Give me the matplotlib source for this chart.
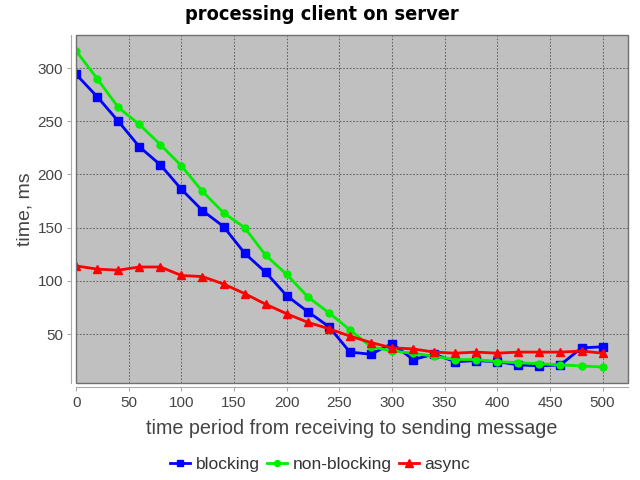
import matplotlib.pyplot as plt
from matplotlib.patches import Rectangle

# data
periods = [0, 20, 40, 60, 80, 100, 120, 140, 160, 180, 200, 220, 240,
           260, 280, 300, 320, 340, 360, 380, 400, 420, 440, 460, 480, 500]
blocking = [294, 273, 250, 226, 209, 186, 166, 151, 126, 108, 86, 71, 57,
            33, 31, 41, 26, 31, 24, 25, 24, 21, 20, 21, 37, 38]
non_blocking = [316, 290, 263, 247, 228, 208, 184, 164, 150, 124, 106, 85, 70,
                54, 38, 34, 32, 29, 26, 26, 24, 23, 22, 21, 20, 19]
async_ = [114, 111, 110, 113, 113, 105, 104, 97, 88, 78, 69, 61, 55,
          48, 42, 37, 36, 33, 32, 33, 32, 33, 33, 33, 34, 32]
y_ticks = [50, 100, 150, 200, 250, 300]
x_ticks = [0, 50, 100, 150, 200, 250, 300, 350, 400, 450, 500]


def main():
    plt.rcParams["font.family"] = ["Liberation Sans", "DejaVu Sans"]

    fig = plt.figure(figsize=(6.4, 4.8), dpi=100)
    ax = fig.add_axes([0.119, 0.2015, 0.862, 0.7255])
    ax.set_facecolor("#c0c0c0")

    ax.plot(periods, blocking, color="#0000ff", lw=2, marker="s", ms=5.5, label="blocking")
    ax.plot(periods, non_blocking, color="#00ee00", lw=2, marker="o", ms=5, label="non-blocking")
    ax.plot(periods, async_, color="#ff0000", lw=2, marker="^", ms=6, label="async")

    ax.set_xlim(0, 524)
    ax.set_ylim(3.7, 331)
    ax.set_xticks(x_ticks)
    ax.set_yticks(y_ticks)
    ax.grid(True, color="#505050", linestyle=(0, (2, 2)), linewidth=0.6)
    ax.set_axisbelow(True)

    # plot outline plus separate light axis lines, like the original
    ax.add_patch(Rectangle((0, 0), 1, 1, transform=ax.transAxes, fill=False,
                           edgecolor="#707070", lw=1, zorder=5, clip_on=False))
    ax.spines["top"].set_visible(False)
    ax.spines["right"].set_visible(False)
    ax.spines["left"].set_position(("outward", 4))
    ax.spines["bottom"].set_position(("outward", 3))
    ax.spines["left"].set_color("#aaaaaa")
    ax.spines["bottom"].set_color("#aaaaaa")
    ax.tick_params(labelcolor="#444444", labelsize=11, length=3, direction="out", color="#aaaaaa")
    ax.tick_params(axis="y", pad=2.5)

    fig.suptitle("processing client on server", x=0.503, y=0.969, va="center",
                 fontsize=14.3, fontweight="bold", family="DejaVu Sans", fontstretch="condensed")
    ax.set_xlabel("time period from receiving to sending message", fontsize=14.2, color="#444444", labelpad=6)
    ax.set_ylabel("time, ms", fontsize=14, color="#444444", labelpad=3)

    fig.legend(loc="lower center", bbox_to_anchor=(0.5, -0.016), ncol=3, frameon=False,
               fontsize=12.5, handlelength=1.2, handletextpad=0.3, columnspacing=0.4,
               markerscale=0.85, labelcolor="#333333")

    fig.savefig("out.png", dpi=100)


if __name__ == "__main__":
    main()
